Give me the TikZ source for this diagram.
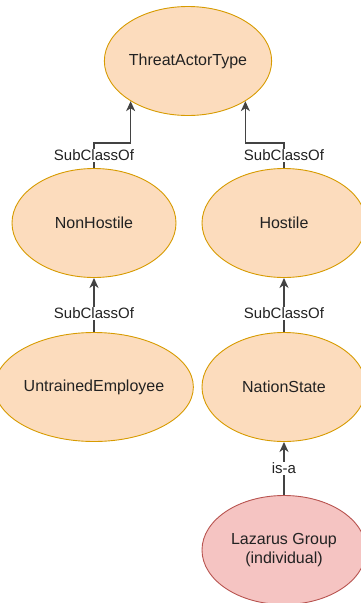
\documentclass[tikz,border=0pt]{standalone}
\usepackage{fontspec}
\setmainfont{Liberation Sans}
\usetikzlibrary{shapes,arrows.meta,positioning,calc}
\definecolor{peach}{HTML}{FCDCBD}
\definecolor{peachline}{HTML}{D79B00}
\definecolor{pinkfill}{HTML}{F5C4C2}
\definecolor{pinkline}{HTML}{B85450}
\definecolor{ink}{HTML}{222222}

\begin{document}
\begin{tikzpicture}[x=1pt, y=-1pt,
  cls/.style={ellipse, draw=peachline, fill=peach, line width=0.9pt, inner sep=0pt,
    minimum width=164pt, minimum height=109pt, text=ink, font=\fontsize{16}{19}\selectfont, align=center},
  inst/.style={cls, draw=pinkline, fill=pinkfill},
  rel/.style={draw=ink!85, line width=1.4pt, -{Stealth[length=10pt,width=9pt,inset=3pt]}},
  lbl/.style={fill=white, inner sep=1pt, text=ink, font=\fontsize{15}{18}\selectfont}]
\useasboundingbox (0,0) rectangle (360,603);
\node[cls] (actor) at (188,61) {ThreatActorType};
\node[cls] (nonhostile) at (94,223) {NonHostile};
\node[cls] (hostile) at (284,223) {Hostile};
\node[cls] (employee) at (94,387) {UntrainedEmployee};
\node[cls] (nation) at (284,387) {NationState};
\node[inst] (lazarus) at (284,550) {Lazarus Group\\(individual)};
\draw[rel] (nonhostile.north) -- node[lbl] {SubClassOf} ++(0,-25) -| (actor.215);
\draw[rel] (hostile.north) -- node[lbl] {SubClassOf} ++(0,-25) -| (actor.325);
\draw[rel] (employee.north) -- node[lbl, pos=0.35] {SubClassOf} (nonhostile.south);
\draw[rel] (nation.north) -- node[lbl, pos=0.35] {SubClassOf} (hostile.south);
\draw[rel] (lazarus.north) -- node[lbl] {is-a} (nation.south);
\end{tikzpicture}
\end{document}
